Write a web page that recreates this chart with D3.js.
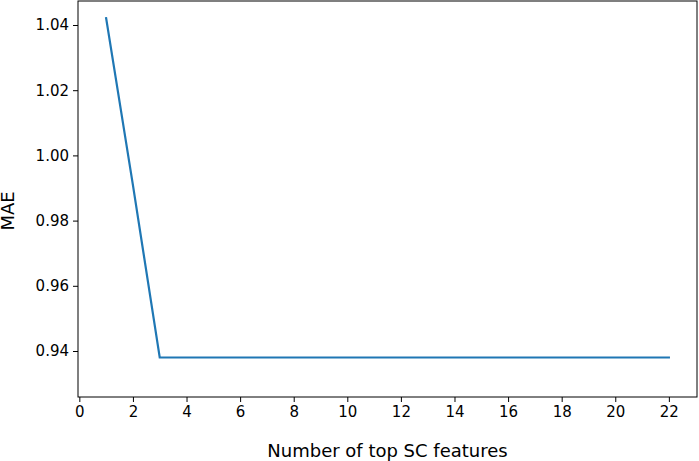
<!DOCTYPE html>
<html><head><meta charset="utf-8">
<script src="https://cdn.jsdelivr.net/npm/d3@7"></script>
<style>body{margin:0;background:#fff}svg{display:block}text{font-family:"DejaVu Sans",sans-serif}</style>
</head><body><svg id="c" width="699" height="461"></svg>
<script>
const features = [1,2,3,4,5,6,7,8,9,10,11,12,13,14,15,16,17,18,19,20,21,22];
const mae = [1.0421,0.9909,0.938,0.938,0.938,0.938,0.938,0.938,0.938,0.938,0.938,0.938,0.938,0.938,0.938,0.938,0.938,0.938,0.938,0.938,0.938,0.938];
const xTicks = [0,2,4,6,8,10,12,14,16,18,20,22];
const yTicks = [0.94,0.96,0.98,1.00,1.02,1.04];
const svg = d3.select("#c");
const L=78,R=697,T=1,B=397;
const x = d3.scaleLinear().domain([-0.05,23.05]).range([L,R]);
const y = d3.scaleLinear().domain([0.94,1.04]).range([351,25]);
svg.append("g").attr("transform",`translate(0,${B})`)
  .call(d3.axisBottom(x).tickValues(xTicks).tickFormat(d3.format("d")).tickSize(5).tickPadding(4))
  .call(g=>{g.select(".domain").remove();g.selectAll("text").attr("font-size",15).attr("fill","#000");g.selectAll("line").attr("stroke","#000");});
svg.append("g").attr("transform",`translate(${L},0)`)
  .call(d3.axisLeft(y).tickValues(yTicks).tickFormat(d3.format(".2f")).tickSize(5).tickPadding(4))
  .call(g=>{g.select(".domain").remove();g.selectAll("text").attr("font-size",15).attr("fill","#000");g.selectAll("line").attr("stroke","#000");});
svg.append("path").datum(features.map((f,i)=>[f,mae[i]]))
  .attr("d",d3.line().x(d=>x(d[0])).y(d=>y(d[1])))
  .attr("fill","none").attr("stroke","#1f77b4").attr("stroke-width",2.2).attr("stroke-linecap","square");
svg.append("rect").attr("x",L).attr("y",T).attr("width",R-L).attr("height",B-T)
  .attr("fill","none").attr("stroke","#000").attr("stroke-width",1);
svg.append("text").attr("x",(L+R)/2).attr("y",457).attr("text-anchor","middle").attr("font-size",18).text("Number of top SC features");
svg.append("text").attr("transform",`translate(14,${(T+B)/2+12}) rotate(-90)`).attr("text-anchor","middle").attr("font-size",18).text("MAE");
</script></body></html>
